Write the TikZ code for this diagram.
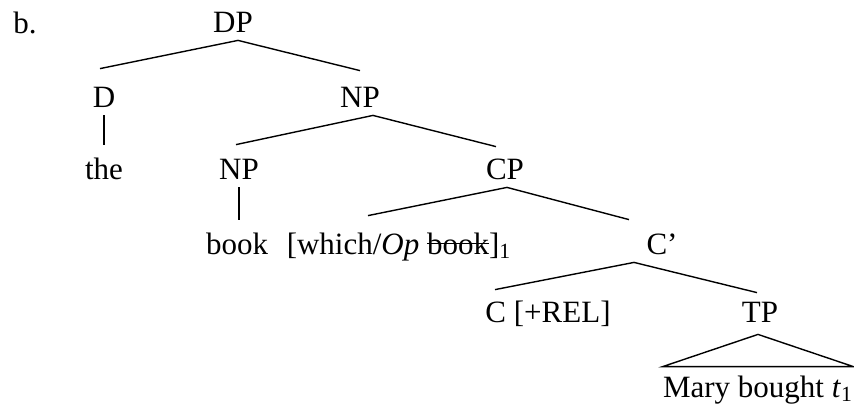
\documentclass[tikz,border=0pt]{standalone}
\usepackage{fontspec}
\setmainfont{Liberation Serif}
\usetikzlibrary{calc}
\tikzset{cat/.style={inner sep=0pt, anchor=base, text height=17pt, text depth=4pt}}
\tikzset{every node/.style={font=\fontsize{15.5}{18}\selectfont}}
\tikzset{branch/.style={draw, line width=0.7pt}}
\newsavebox{\gonebox}
\newcommand{\gone}[1]{\sbox{\gonebox}{#1}\rlap{\rule[0.33em]{\wd\gonebox}{0.6pt}}\usebox{\gonebox}}

\begin{document}
\begin{tikzpicture}[x=0.5pt, y=-0.5pt]
    \useasboundingbox (0,0) rectangle (854,408);
    \node[cat, anchor=base west] (ex) at (13,33) {b.};
    \node[cat] (dp) at (233,32) {DP};
    \node[cat] (d) at (104,107) {D};
    \node[cat] (np1) at (360,107) {NP};
    \node[cat] (the) at (104,179) {the};
    \node[cat] (np2) at (239,179) {NP};
    \node[cat] (cp) at (505,179) {CP};
    \node[cat] (book) at (237,254) {book};
    \node[cat] (spec) at (399,254) {[which/\textit{Op} \gone{book}]\textsubscript{1}};
    \node[cat] (cbar) at (662,254) {C’};
    \node[cat] (c) at (548,322) {C [+REL]};
    \node[cat] (tp) at (760,322) {TP};
    \node[cat] (mary) at (758,397) {Mary bought \textit{t}\textsubscript{1}};
    \draw[branch] ($(dp.south)+(5,0)$) -- ($(d.north)+(-4,-4)$);
    \draw[branch] ($(dp.south)+(5,0)$) -- ($(np1.north)+(0,-2)$);
    \draw[branch] (d.south) -- (the.north);
    \draw[branch] ($(np1.south)+(13,0)$) -- ($(np2.north)+(-3,0)$);
    \draw[branch] ($(np1.south)+(13,0)$) -- ($(cp.north)+(-9,2)$);
    \draw[branch] (np2.south) -- ($(book.north)+(2,0)$);
    \draw[branch] ($(cp.south)+(2,0)$) -- ($(spec.north)+(-31,-4)$);
    \draw[branch] ($(cp.south)+(2,0)$) -- ($(cbar.north)+(-33,0)$);
    \draw[branch] ($(cbar.south)+(-28,0)$) -- ($(c.north)+(-53,2)$);
    \draw[branch] ($(cbar.south)+(-28,0)$) -- ($(tp.north)+(-3,5)$);
    \draw[branch] ($(tp.south)+(-2,4)$) -- ($(mary.north west)+(0,4)$) -- ($(mary.north east)+(0,4)$) -- cycle;
\end{tikzpicture}
\end{document}
